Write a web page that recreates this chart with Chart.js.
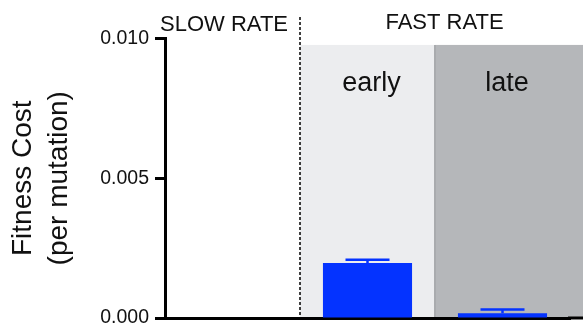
<!DOCTYPE html>
<html>
<head>
<meta charset="utf-8">
<script src="https://cdn.jsdelivr.net/npm/chart.js@4.4.1/dist/chart.umd.min.js"></script>
<style>
  html, body { margin: 0; padding: 0; background: #ffffff; }
  canvas { display: block; }
</style>
</head>
<body>
<canvas id="c" width="583" height="328"></canvas>
<script>
// ---- data ----
const categories = ['SLOW RATE', 'early', 'late'];
const fitnessCost = [null, 0.00197, 0.00017];
const fitnessSem = [null, 0.00011, 0.00013];
const groupLabels = ['SLOW RATE', 'FAST RATE'];
const phaseLabels = ['early', 'late'];
const yTitle = ['Fitness Cost', '(per mutation)'];
const yMin = 0, yMax = 0.010, yStep = 0.005;
const shadeTopValue = 0.00977;

const FONT = "'Liberation Sans', Arial, Helvetica, sans-serif";
const BLUE = '#0433ff';

const decorPlugin = {
  id: 'decor',
  beforeDraw(chart) {
    const { ctx, chartArea, scales } = chart;
    const x = scales.x, y = scales.y;
    const half = (x.getPixelForValue(1) - x.getPixelForValue(0)) / 2;
    const b1 = x.getPixelForValue(1) - half;
    const b2 = x.getPixelForValue(2) - half;
    const top = y.getPixelForValue(shadeTopValue);
    const bottom = chartArea.bottom;
    ctx.save();
    ctx.fillStyle = '#ecedef';
    ctx.fillRect(b1, top, b2 - b1, bottom - top);
    ctx.fillStyle = '#b5b7ba';
    ctx.fillRect(b2, top, chart.width - b2, bottom - top);
    ctx.strokeStyle = '#a9abae';
    ctx.lineWidth = 2;
    ctx.beginPath();
    ctx.moveTo(b2, top);
    ctx.lineTo(b2, bottom);
    ctx.stroke();
    ctx.restore();
  },
  afterDatasetsDraw(chart) {
    const { ctx, scales } = chart;
    const x = scales.x, y = scales.y;
    ctx.save();
    ctx.strokeStyle = BLUE;
    ctx.lineWidth = 2.5;
    fitnessCost.forEach((v, i) => {
      if (v === null) return;
      const px = x.getPixelForValue(i);
      const yb = y.getPixelForValue(v);
      const yt = y.getPixelForValue(v + fitnessSem[i]);
      ctx.beginPath();
      ctx.moveTo(px, yb);
      ctx.lineTo(px, yt);
      ctx.moveTo(px - 22, yt);
      ctx.lineTo(px + 22, yt);
      ctx.stroke();
    });
    ctx.restore();
  },
  afterDraw(chart) {
    const { ctx, chartArea, scales } = chart;
    const x = scales.x;
    const half = (x.getPixelForValue(1) - x.getPixelForValue(0)) / 2;
    const b1 = x.getPixelForValue(1) - half;
    ctx.save();
    ctx.strokeStyle = '#000';
    ctx.lineWidth = 3;
    ctx.beginPath();
    ctx.moveTo(chartArea.right - 2, chartArea.bottom);
    ctx.lineTo(chart.width, chartArea.bottom);
    ctx.stroke();
    ctx.lineWidth = 1.5;
    ctx.setLineDash([3, 2]);
    ctx.beginPath();
    ctx.moveTo(b1, 17);
    ctx.lineTo(b1, chartArea.bottom);
    ctx.stroke();
    ctx.setLineDash([]);
    ctx.fillStyle = '#111';
    ctx.textBaseline = 'alphabetic';
    ctx.font = '22px ' + FONT;
    ctx.textAlign = 'right';
    ctx.fillText(groupLabels[0], b1 - 12, 31);
    ctx.textAlign = 'center';
    ctx.fillText(groupLabels[1], (b1 + chart.width) / 2 + 3, 28.5);
    ctx.font = '27px ' + FONT;
    ctx.fillText(phaseLabels[0], x.getPixelForValue(1) + 4, 90.5);
    ctx.fillText(phaseLabels[1], x.getPixelForValue(2) + 4.5, 90.5);
    ctx.restore();
  }
};

new Chart(document.getElementById('c'), {
  type: 'bar',
  data: {
    labels: categories,
    datasets: [{
      data: fitnessCost,
      backgroundColor: BLUE,
      borderWidth: 0,
      barPercentage: 0.66,
      categoryPercentage: 1.0
    }]
  },
  options: {
    responsive: false,
    animation: false,
    layout: { padding: { top: 38.5, bottom: 10, right: 13, left: 0 } },
    plugins: { legend: { display: false }, tooltip: { enabled: false } },
    scales: {
      x: {
        afterFit(scale) { scale.height = 0; scale.paddingLeft = 0; scale.paddingRight = 0; },
        ticks: { display: false },
        grid: { display: false, drawTicks: false },
        border: { display: true, width: 3, color: '#000' }
      },
      y: {
        min: yMin,
        max: yMax,
        afterFit(scale) { scale.width = 165; scale.paddingTop = 0; scale.paddingBottom = 0; },
        ticks: {
          stepSize: yStep,
          padding: 6,
          color: '#111',
          font: { size: 19.5, family: FONT },
          callback: v => Number(v).toFixed(3)
        },
        grid: {
          drawOnChartArea: false,
          drawTicks: true,
          tickLength: 10,
          tickWidth: 3,
          tickColor: '#000'
        },
        border: { display: true, width: 3, color: '#000' },
        title: {
          display: true,
          text: yTitle,
          color: '#111',
          font: { size: 28, family: FONT, lineHeight: 1.3 },
          padding: { top: 5, bottom: 0 }
        }
      }
    }
  },
  plugins: [decorPlugin]
});
</script>
</body>
</html>
